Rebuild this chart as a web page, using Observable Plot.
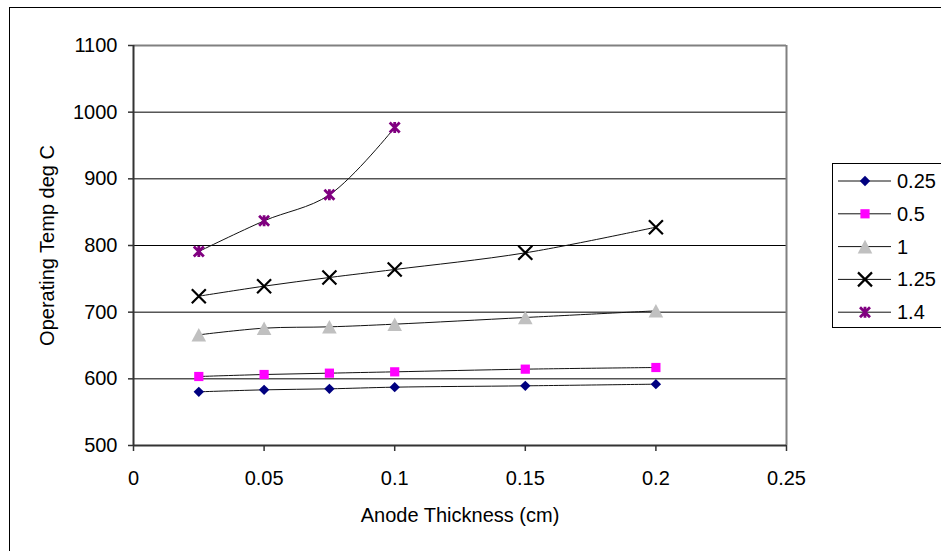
<!DOCTYPE html>
<html>
<head>
<meta charset="utf-8">
<script src="https://cdn.jsdelivr.net/npm/d3@7"></script>
<script src="https://cdn.jsdelivr.net/npm/@observablehq/plot@0.6"></script>
<style>
  html, body { margin: 0; padding: 0; background: #fff; overflow: hidden; }
  #wrap { position: relative; width: 941px; height: 551px; overflow: hidden;
          font-family: "Liberation Sans", Arial, sans-serif; }
  #wrap > svg { position: absolute; left: 0; top: 0; }
  #frame { position: absolute; left: 9px; top: 7px; width: 1000px; height: 1000px;
           border: 1px solid #000; pointer-events: none; }
</style>
</head>
<body>
<div id="wrap"><div id="frame"></div></div>
<script>
// Anode thickness (cm) on the x axis
const thickness = [0.025, 0.05, 0.075, 0.1, 0.15, 0.2];

// Operating temperature (deg C), one list per series
const seriesNames = ["0.25", "0.5", "1", "1.25", "1.4"];
const temp025 = [580.5, 583.5, 585, 587.5, 589.5, 592];
const temp05  = [603.5, 606.5, 608.5, 610.5, 614.5, 617];
const temp1   = [666, 676, 678, 682, 692, 702];
const temp125 = [724, 739, 752, 764, 789, 827.5];
const temp14  = [791, 837, 876, 977];

const xTicks = [0, 0.05, 0.1, 0.15, 0.2, 0.25];
const yTicks = [500, 600, 700, 800, 900, 1000, 1100];
const xLabel = "Anode Thickness (cm)";
const yLabel = "Operating Temp deg C";

// Marker shapes (half-size comes from r)
const rad = size => Math.sqrt(size / Math.PI);
const diamondSym = { draw(c, s) { const r = rad(s); c.moveTo(0, -r); c.lineTo(r, 0); c.lineTo(0, r); c.lineTo(-r, 0); c.closePath(); } };
const squareSym  = { draw(c, s) { const r = rad(s); c.rect(-r, -r, 2 * r, 2 * r); } };
const triSym     = { draw(c, s) { const r = rad(s); c.moveTo(0, -r * 0.93); c.lineTo(r, r * 0.93); c.lineTo(-r, r * 0.93); c.closePath(); } };
const crossSym   = { draw(c, s) { const r = rad(s); c.moveTo(-r, -r); c.lineTo(r, r); c.moveTo(r, -r); c.lineTo(-r, r); } };
const starSym    = { draw(c, s) { const r = rad(s); c.moveTo(-r, -r); c.lineTo(r, r); c.moveTo(r, -r); c.lineTo(-r, r); c.moveTo(0, -r * 1.1); c.lineTo(0, r * 1.1); } };

const values = [temp025, temp05, temp1, temp125, temp14];
const styles = [
  { sym: diamondSym, r: 5.2, fill: "#000080", stroke: "none", sw: 0 },
  { sym: squareSym,  r: 4.6, fill: "#FF00FF", stroke: "none", sw: 0 },
  { sym: triSym,     r: 7.3, fill: "#C0C0C0", stroke: "none", sw: 0 },
  { sym: crossSym,   r: 7,   fill: "none",    stroke: "#000000", sw: 2.2 },
  { sym: starSym,    r: 5,   fill: "none",    stroke: "#800080", sw: 2.8 }
];

const rows = seriesNames.flatMap((name, k) =>
  values[k].map((v, i) => ({ series: name, x: thickness[i], y: v })));

const seriesMarks = seriesNames.flatMap((name, k) => {
  const d = rows.filter(r => r.series === name);
  const st = styles[k];
  return [
    Plot.line(d, { x: "x", y: "y", curve: "catmull-rom", stroke: "#111", strokeWidth: 1 }),
    Plot.dot(d, { x: "x", y: "y", symbol: st.sym, r: st.r, fill: st.fill, stroke: st.stroke, strokeWidth: st.sw })
  ];
});

const chart = Plot.plot({
  width: 941,
  height: 551,
  marginLeft: 133,
  marginRight: 155,
  marginTop: 45,
  marginBottom: 106,
  x: { domain: [0, 0.25] },
  y: { domain: [500, 1100] },
  style: { background: "transparent", fontFamily: "'Liberation Sans', Arial, sans-serif", fontSize: "20px", color: "#000" },
  marks: [
    Plot.ruleY(yTicks.filter(v => v > 500 && v < 1100), { stroke: "#000", strokeWidth: 1 }),
    Plot.ruleY([1100], { stroke: "#808080", strokeWidth: 2 }),
    Plot.ruleX([0.25], { stroke: "#808080", strokeWidth: 2 }),
    Plot.ruleX([0], { stroke: "#333", strokeWidth: 2 }),
    Plot.ruleY([500], { stroke: "#333", strokeWidth: 2 }),
    Plot.axisX({ ticks: xTicks, tickFormat: d => String(d), tickSize: 6, tickPadding: 19, fontSize: 20, label: null, stroke: "#333", strokeWidth: 1.5 }),
    Plot.axisY({ ticks: yTicks, tickFormat: d => String(d), tickSize: 5, tickPadding: 11, fontSize: 20, label: null, stroke: "#333", strokeWidth: 1.5 }),
    Plot.text([xLabel], { text: d => d, frameAnchor: "bottom", dy: 70, fontSize: 20, lineAnchor: "middle" }),
    Plot.text([yLabel], { text: d => d, frameAnchor: "left", dx: -86, rotate: -90, fontSize: 20, lineAnchor: "middle", textAnchor: "middle" }),
    ...seriesMarks
  ]
});

const wrap = document.getElementById("wrap");
wrap.prepend(chart);

// Legend box on the right
const leg = d3.select(wrap).append("svg")
  .attr("width", 941).attr("height", 551)
  .style("position", "absolute").style("left", "0px").style("top", "0px")
  .style("pointer-events", "none");

leg.append("rect")
  .attr("x", 832.5).attr("y", 163.5).attr("width", 200).attr("height", 164)
  .attr("fill", "#fff").attr("stroke", "#000").attr("stroke-width", 1);

seriesNames.forEach((name, k) => {
  const st = styles[k];
  const cy = 181 + k * 32.8;
  const g = leg.append("g").attr("transform", `translate(0,${cy})`);
  g.append("line").attr("x1", 838).attr("x2", 891).attr("y1", 0).attr("y2", 0)
    .attr("stroke", "#111").attr("stroke-width", 1);
  const p = d3.path();
  st.sym.draw(p, st.r * st.r * Math.PI);
  g.append("path").attr("d", p.toString()).attr("transform", "translate(865,0)")
    .attr("fill", st.fill).attr("stroke", st.stroke).attr("stroke-width", st.sw);
  g.append("text").attr("x", 897).attr("y", 0).attr("dy", "0.35em")
    .attr("font-size", 20).attr("font-family", "'Liberation Sans', Arial, sans-serif")
    .text(name);
});
</script>
</body>
</html>
